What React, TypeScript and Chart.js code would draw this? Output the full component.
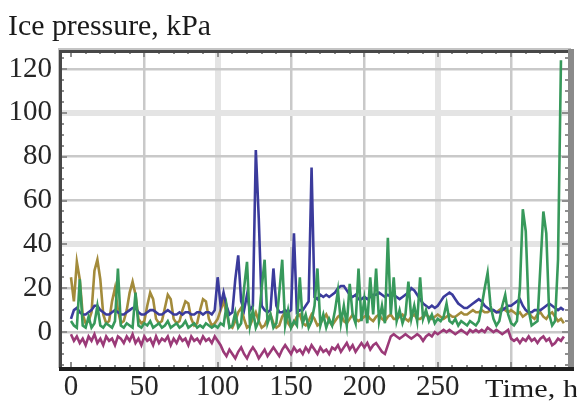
import React, { useEffect, useRef } from "react";
import { Chart, registerables } from "chart.js";

Chart.register(...registerables);

// Sampling step of the time series (hours)
const HOUR_STEP = 2;

// Ice pressure series, kPa, sampled every 2 h from 0 h
const gold = [
  25, 14, 32, 24, 8, 4, 5, 9, 28, 33,
  24, 8, 4, 5, 14, 20, 10, 4, 5, 10,
  18, 23, 17, 6, 4, 5, 12, 18, 15, 6,
  4, 5, 11, 17, 15, 6, 4, 5, 10, 14,
  13, 6, 3, 4, 10, 15, 14, 6, 3, 4,
  6, 10, 14, 9, 3, 2, 5, 9, 11, 6,
  2, 3, 6, 9, 5, 2, 3, 6, 8, 4,
  2, 3, 7, 9, 4, 2, 4, 7, 8, 4,
  3, 5, 8, 6, 3, 4, 6, 8, 5, 3,
  5, 7, 8, 5, 4, 6, 8, 6, 5, 6,
  7, 8, 6, 5, 7, 8, 6, 5, 7, 8,
  6, 6, 7, 8, 6, 5, 7, 8, 6, 6,
  7, 8, 7, 6, 7, 8, 7, 6, 7, 8,
  7, 7, 8, 9, 8, 8, 9, 10, 9, 9,
  10, 9, 9, 10, 10, 9, 10, 11, 10, 9,
  10, 9, 8, 9, 7, 8, 9, 7, 6, 8,
  9, 7, 6, 8, 9, 7, 5, 6, 4,
];

const blue = [
  6, 10, 11, 9, 8, 8, 9, 10, 12, 12,
  10, 9, 8, 8, 9, 10, 9, 8, 8, 9,
  10, 11, 11, 9, 8, 8, 9, 10, 10, 9,
  8, 8, 9, 10, 9, 8, 8, 9, 8, 9,
  9, 8, 8, 9, 9, 8, 9, 9, 8, 10,
  25, 12, 18, 12, 8, 9, 24, 35, 14, 10,
  17, 10, 12, 83, 52, 12, 10, 9, 10, 29,
  12, 9, 9, 10, 9, 10, 45, 9, 10, 10,
  12, 14, 75, 16, 15, 17, 16, 17, 16, 17,
  18, 20, 21, 21, 19, 17, 16, 17, 15, 15,
  16, 15, 16, 17, 17, 18, 17, 16, 17, 16,
  17, 16, 15, 16, 17, 18, 20, 19, 17, 15,
  13, 12, 11, 12, 11, 12, 14, 16, 17, 18,
  17, 15, 13, 12, 11, 11, 12, 13, 14, 15,
  14, 12, 11, 10, 10, 9, 9, 10, 11, 12,
  12, 13, 14, 15, 12, 10, 9, 9, 10, 10,
  10, 11, 12, 13, 12, 11, 10, 11, 10,
];

const green = [
  5, 3, 2, 24, 3, 2, 7, 2, 4, 12,
  3, 2, 4, 3, 2, 5, 29, 3, 2, 4,
  3, 2, 18, 3, 2, 4, 3, 5, 2, 3,
  4, 2, 3, 5, 2, 3, 4, 2, 3, 5,
  2, 3, 4, 2, 3, 2, 4, 3, 2, 3,
  2, 4, 3, 12, 2, 3, 9, 2, 4, 20,
  32, 3, 10, 2, 5, 20, 33, 4, 8, 2,
  4, 18, 33, 3, 10, 2, 5, 3, 25, 4,
  8, 2, 5, 12, 29, 3, 8, 2, 6, 3,
  10, 19, 4, 12, 3, 22, 8, 4, 29, 5,
  15, 4, 25, 8, 29, 5, 12, 4, 43, 8,
  25, 5, 10, 4, 8, 23, 6, 12, 5, 25,
  6, 10, 5, 8, 4, 6, 5, 7, 13, 5,
  4, 6, 3, 5, 4, 3, 5, 4, 3, 5,
  12, 20, 27, 12, 6, 3, 5, 12, 17, 8,
  4, 3, 5, 20, 56, 46, 10, 3, 4, 5,
  30, 55, 45, 8, 3, 5, 33, 124,
];

const magenta = [
  -1, -4, -2, -5, -3, -6, -2, -4, -1, -5,
  -3, -6, -2, -4, -3, -6, -2, -3, -5, -2,
  -4, -1, -5, -3, -6, -2, -4, -3, -6, -2,
  -5, -3, -4, -2, -6, -3, -5, -2, -4, -3,
  -6, -2, -4, -3, -5, -2, -4, -3, -5, -2,
  -4, -6, -9, -11, -8, -10, -12, -9, -7, -10,
  -12, -9, -7, -9, -12, -10, -8, -11, -9, -7,
  -9, -11, -8, -6, -8, -10, -7, -9, -8, -10,
  -7, -9, -6, -8, -10, -7, -9, -8, -10, -7,
  -8, -6, -9, -7, -5, -8, -6, -9, -7, -5,
  -7, -5, -8, -6, -5, -7, -9, -10, -6, -2,
  -1, -2, -3, -2, -1, -2, -3, -2, -1, -2,
  -4, -2, -1, -2, 0, -1, 0, 1, 0, 1,
  0, -1, 0, 1, 0, -1, 1, 0, 1, 0,
  1, 0, 2, 1, 0, 1, 0, -1, 0, 1,
  -3, -4, -3, -5, -3, -4, -2, -4, -3, -5,
  -3, -2, -4, -3, -6, -5, -3, -4, -2,
];

const xTicks = [0, 50, 100, 150, 200, 250, 300];
const xTickLabels = ["0", "50", "100", "150", "200", "250", ""];
const yTicks = [0, 20, 40, 60, 80, 100, 120];
const yTickLabels = ["0", "20", "40", "60", "80", "100", "120"];
const xWideGrid = [100, 250];
const yWideGrid = [40, 100];

const X_MIN = -6.8;
const X_MAX = 338.8;
const Y_MIN = -16.4;
const Y_MAX = 128.2;

const yLabel = "Ice pressure, kPa";
const xLabel = "Time, h";

const toPoints = (vals: number[]) =>
  vals.map((v, i) => ({ x: i * HOUR_STEP, y: v }));

const SERIF = '"Liberation Serif", "Times New Roman", serif';

const framePlugin = {
  id: "mmaFrame",
  afterDatasetsDraw(chart: any) {
    const { ctx, chartArea: a, scales } = chart;
    const xs = scales.x;
    const ys = scales.y;
    ctx.save();
    ctx.fillStyle = "#8e8e8e";
    for (let v = -15; v <= 125; v += 5) {
      const py = Math.round(ys.getPixelForValue(v));
      const len = v % 20 === 0 ? 6 : 3;
      ctx.fillRect(a.left, py - 1, len, 2);
      ctx.fillRect(a.right - len, py - 1, len, 2);
    }
    for (let h = 0; h <= 330; h += 10) {
      const px = Math.round(xs.getPixelForValue(h));
      const len = h % 50 === 0 ? 6 : 3;
      ctx.fillRect(px - 1, a.top, 2, len);
      ctx.fillRect(px - 1, a.bottom - len, 2, len);
    }
    ctx.fillStyle = "#c4c4c4";
    ctx.fillRect(a.left - 3, a.top - 3, a.right - a.left + 6, 2);
    ctx.fillRect(a.left - 3, a.top - 3, 2, a.bottom - a.top + 3);
    ctx.fillStyle = "#474747";
    ctx.fillRect(a.left - 1, a.top - 1, a.right - a.left + 1, 3);
    ctx.fillRect(a.left - 2, a.top - 1, 3, a.bottom - a.top + 2);
    ctx.fillStyle = "#8a8a8a";
    ctx.fillRect(a.right, a.top - 2, 6, a.bottom - a.top + 3);
    ctx.fillStyle = "#1e1e1e";
    ctx.fillRect(a.left - 2, a.bottom - 1, a.right - a.left + 8, 4);
    ctx.restore();
  },
  afterDraw(chart: any) {
    const { ctx } = chart;
    ctx.save();
    ctx.fillStyle = "#1a1a1a";
    ctx.textAlign = "left";
    ctx.textBaseline = "alphabetic";
    ctx.font = `30px ${SERIF}`;
    const tw = ctx.measureText(yLabel).width;
    ctx.save();
    ctx.translate(8, 35);
    ctx.scale(203 / tw, 1);
    ctx.fillText(yLabel, 0, 0);
    ctx.restore();
    ctx.font = `25px ${SERIF}`;
    const w = ctx.measureText(xLabel).width;
    ctx.translate(485, 397);
    ctx.scale(93 / w, 1);
    ctx.fillText(xLabel, 0, 0);
    ctx.restore();
  },
};

export default function App() {
  const ref = useRef<HTMLCanvasElement | null>(null);
  useEffect(() => {
    if (!ref.current) return;
    const line = (data: number[], color: string) => ({
      data: toPoints(data),
      borderColor: color,
      backgroundColor: color,
      borderWidth: 2.6,
      pointRadius: 0,
      tension: 0,
      fill: false,
    });
    const chart = new Chart(ref.current, {
      type: "line",
      data: {
        datasets: [
          line(green, "#37995b"),
          line(blue, "#3b3b9c"),
          line(gold, "#a38b3b"),
          line(magenta, "#9b3a78"),
        ],
      },
      options: {
        responsive: false,
        animation: false,
        devicePixelRatio: 1,
        layout: { padding: { top: 51, right: 9, bottom: 0, left: 0 } },
        plugins: {
          legend: { display: false },
          tooltip: { enabled: false },
          title: { display: false },
        },
        scales: {
          x: {
            type: "linear",
            min: X_MIN,
            max: X_MAX,
            afterBuildTicks: (s: any) => {
              s.ticks = xTicks.map((v) => ({ value: v }));
            },
            afterFit: (s: any) => {
              s.height = 37;
            },
            border: { display: false },
            grid: {
              drawTicks: false,
              color: (c: any) =>
                c.tick && c.tick.value === 0
                  ? "rgba(0,0,0,0)"
                  : c.tick && xWideGrid.includes(c.tick.value)
                  ? "#e4e4e4"
                  : "#c9c9c9",
              lineWidth: (c: any) =>
                c.tick && xWideGrid.includes(c.tick.value) ? 6 : 2.5,
            },
            ticks: {
              autoSkip: false,
              maxRotation: 0,
              padding: 2,
              color: "#262626",
              font: { family: SERIF, size: 29 },
              callback: (v: any) => {
                const i = xTicks.indexOf(Number(v));
                return i >= 0 ? xTickLabels[i] : "";
              },
            },
          },
          y: {
            type: "linear",
            min: Y_MIN,
            max: Y_MAX,
            afterBuildTicks: (s: any) => {
              s.ticks = yTicks.map((v) => ({ value: v }));
            },
            afterFit: (s: any) => {
              s.width = 61;
            },
            border: { display: false },
            grid: {
              drawTicks: false,
              color: (c: any) =>
                c.tick && yWideGrid.includes(c.tick.value) ? "#e4e4e4" : "#c9c9c9",
              lineWidth: (c: any) =>
                c.tick && yWideGrid.includes(c.tick.value) ? 6 : 2.5,
            },
            ticks: {
              autoSkip: false,
              padding: 9,
              color: "#262626",
              font: { family: SERIF, size: 29 },
              callback: (v: any) => {
                const i = yTicks.indexOf(Number(v));
                return i >= 0 ? yTickLabels[i] : "";
              },
            },
          },
        },
      },
      plugins: [framePlugin],
    });
    return () => chart.destroy();
  }, []);
  return (
    <div style={{ position: "absolute", left: 0, top: 0, width: 577, height: 405, background: "#fff" }}>
      <canvas ref={ref} width={577} height={405} style={{ display: "block" }} />
    </div>
  );
}
